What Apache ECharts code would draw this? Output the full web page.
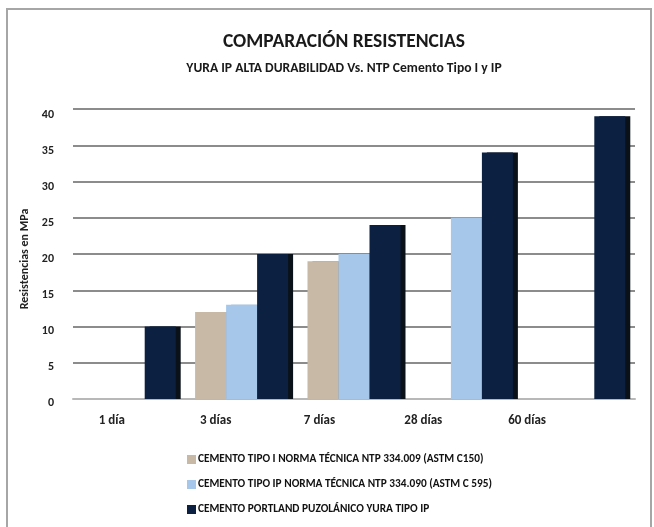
<!DOCTYPE html>
<html><head><meta charset="utf-8">
<script src="https://cdn.jsdelivr.net/npm/echarts@6/dist/echarts.min.js"></script>
<style>html,body{margin:0;padding:0;background:#fff}#c{width:654px;height:527px}</style>
</head><body><div id="c"></div>
<script>
const categories = ['1 día', '3 días', '7 días', '28 días', '60 días'];
const seriesNames = [
  'CEMENTO TIPO I NORMA TÉCNICA NTP 334.009 (ASTM C150)',
  'CEMENTO TIPO IP NORMA TÉCNICA NTP 334.090 (ASTM C 595)',
  'CEMENTO PORTLAND PUZOLÁNICO YURA TIPO IP'
];
const tipoI = [0, 12, 19, 0, 0];
const tipoIP = [0, 13, 20, 25, 0];
const yuraIP = [10, 20, 24, 34, 39];
const yTicks = [0, 5, 10, 15, 20, 25, 30, 35, 40];

const colors = ['#c8b8a6', '#a6c7ea', '#0c2142'];
const sideColors = ['#8f8273', '#7f9bb8', '#0a1118'];
const FONT = 'Carlito, "Liberation Sans", sans-serif';

const chart = echarts.init(document.getElementById('c'));
const mk = (name, data, i) => ({
  name, type: 'bar', xAxisIndex: 0, yAxisIndex: 0, data,
  barWidth: 31, barGap: '0%', barCategoryGap: '15%',
  itemStyle: { color: colors[i], shadowColor: sideColors[i], shadowOffsetX: 5, shadowOffsetY: 0, shadowBlur: 0 },
  z: 3
});
chart.setOption({
  backgroundColor: '#fff',
  animation: false,
  textStyle: { fontFamily: FONT },
  title: [
    { text: 'COMPARACIÓN RESISTENCIAS', left: 339, textAlign: 'center', top: 27,
      textStyle: { fontFamily: FONT, fontSize: 19.5, fontWeight: 'bold', color: '#1a1a1a' } },
    { text: 'YURA IP ALTA DURABILIDAD Vs. NTP Cemento Tipo I y IP', left: 339, textAlign: 'center', top: 57,
      textStyle: { fontFamily: FONT, fontSize: 13.6, fontWeight: 'bold', color: '#1a1a1a' } }
  ],
  graphic: [{ type: 'rect', shape: { x: 7, y: 9, width: 644, height: 600 }, style: { fill: 'none', stroke: '#a6a6a6', lineWidth: 2 }, z: -10 }],
  legend: {
    orient: 'vertical', left: 182, top: 449, itemGap: 14, itemWidth: 9, itemHeight: 9,
    icon: 'rect', data: seriesNames,
    textStyle: { fontFamily: FONT, fontSize: 11.3, fontWeight: 'bold', color: '#111', padding: [0, 0, 0, -3] }
  },
  grid: [
    { left: 73, right: 19, top: 109, bottom: 128 },
    { left: 60, right: 75, top: 115, bottom: 124 }
  ],
  xAxis: [
    { type: 'category', gridIndex: 0, data: categories, offset: 5,
      axisLine: { show: true, lineStyle: { color: '#b8b8b8', width: 2 } },
      axisTick: { show: false }, axisLabel: { show: false } },
    { type: 'category', gridIndex: 1, data: categories,
      axisLine: { show: false }, axisTick: { show: false },
      axisLabel: { margin: 11, fontFamily: FONT, fontSize: 13, fontWeight: 'bold', color: '#222' } }
  ],
  yAxis: [
    { type: 'value', gridIndex: 0, min: 0, max: 40, interval: 5,
      axisLine: { show: false }, axisTick: { show: false }, axisLabel: { show: false },
      splitLine: { lineStyle: { color: '#8c8c8c', width: 2 } } },
    { type: 'value', gridIndex: 1, min: yTicks[0], max: yTicks[yTicks.length - 1], interval: 5,
      name: 'Resistencias en MPa', nameLocation: 'middle', nameGap: 25,
      nameTextStyle: { fontFamily: FONT, fontSize: 12, fontWeight: 'bold', color: '#222' },
      axisLine: { show: false }, axisTick: { show: false }, splitLine: { show: false },
      axisLabel: { margin: 6, fontFamily: FONT, fontSize: 12, fontWeight: 'bold', color: '#222' } }
  ],
  series: [mk(seriesNames[0], tipoI, 0), mk(seriesNames[1], tipoIP, 1), mk(seriesNames[2], yuraIP, 2)]
});
</script></body></html>
